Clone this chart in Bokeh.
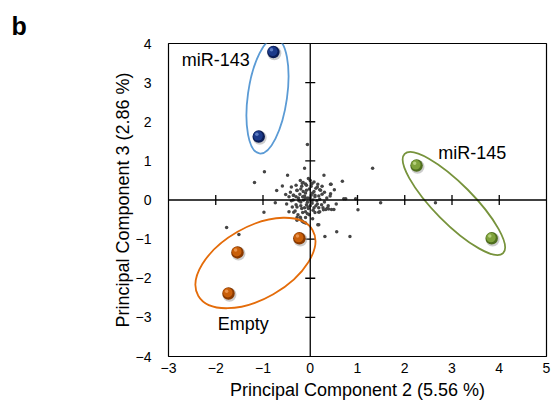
from bokeh.plotting import figure
from bokeh.models import ColumnDataSource, Span, Label, FixedTicker
from bokeh.embed import file_html
from bokeh.resources import INLINE
from bokeh.transform import dodge

# ---- data ----
mir143_x = [-0.78, -1.09]
mir143_y = [3.78, 1.62]
mir145_x = [2.25, 3.84]
mir145_y = [0.88, -0.98]
empty_x = [-0.23, -1.54, -1.73]
empty_y = [-0.98, -1.34, -2.39]

# background genes
genes_x = [-0.06, -0.12, -0.97, -1.18, -0.48, 0.29, 1.32, 0.68, 0.43, -0.59, -0.71, -0.74,
           -0.98, -1.77, -1.51, -0.28, -0.14, 0.16, 1.01, 1.49, 0.75, 2.65, 0.56, 0.84,
           0.31, 0.55, 0.36, -0.52, -0.40, -0.21, -0.04, -0.10, -0.17, -0.28, -0.36, 0.44,
           0.51, 0.43, 0.15, 0.20, 0.08, 0.71, 0.96, -0.35, -0.21, -0.17, -0.10, -0.28,
           -0.06, 0.18, 0.18, 0.27, 0.39, 0.33, 0.45, 0.50,
           -0.05, 0.02, -0.12, -0.20, 0.10, -0.08, 0.05, -0.15, 0.15, -0.25, 0.20, -0.30,
           0.08, -0.02, -0.18, 0.25, -0.35, 0.12, -0.10, 0.30, -0.28, 0.02, -0.06, 0.06,
           -0.14, 0.18, -0.22, 0.00, -0.40, 0.22, -0.08, 0.10, -0.32, 0.35, -0.02, -0.18,
           0.28, -0.42, 0.04, -0.26, 0.16, -0.10, 0.08, -0.20, 0.14, -0.04, -0.16, 0.24,
           -0.36, 0.04, -0.24, 0.00, -0.10, 0.10, -0.05, -0.30, 0.18, -0.12, 0.06, -0.20,
           0.30, -0.38, 0.12, -0.08, -0.16, 0.02, 0.20, -0.45, 0.38, -0.28, -0.10, 0.05,
           -0.20, -0.30, 0.00, -0.15, 0.25, -0.50, 0.42, -0.45]
genes_y = [1.42, 0.81, 0.72, 0.45, 0.63, 0.63, 0.81, 0.48, 0.40, 0.36, 0.24, -0.07,
           -0.31, -0.70, -0.88, -0.52, -0.57, -0.63, -0.25, -0.07, 0.03, -0.07, -0.81, -0.93,
           -0.93, -0.10, -0.21, 0.14, 0.33, 0.50, 0.55, 0.41, 0.43, 0.24, 0.12, 0.40,
           0.26, 0.16, 0.33, 0.26, 0.46, 0.03, 0.03, -0.31, -0.44, -0.54, -0.59, -0.18,
           -0.35, -0.31, -0.63, -0.20, -0.23, -0.24, -0.24, -0.24,
           0.05, -0.03, 0.10, -0.05, 0.08, -0.12, 0.18, 0.22, -0.10, 0.05, 0.02, -0.12,
           -0.20, 0.28, -0.22, 0.15, 0.12, 0.30, -0.30, -0.05, 0.25, 0.12, -0.06, 0.00,
           0.00, -0.20, 0.15, -0.15, -0.02, 0.25, 0.38, -0.32, -0.28, 0.05, -0.38, 0.35,
           -0.25, 0.20, 0.42, -0.38, 0.40, 0.18, 0.22, -0.15, -0.02, -0.22, 0.08, -0.12,
           0.00, -0.08, -0.02, 0.05, 0.05, 0.12, -0.18, 0.08, 0.10, -0.20, -0.26, 0.28,
           0.20, -0.18, -0.15, 0.25, -0.32, 0.35, -0.30, 0.08, -0.15, -0.45, -0.45, -0.48,
           -0.50, 0.38, 0.50, 0.45, 0.35, -0.10, 0.10, -0.30]

x_ticks = [-3, -2, -1, 0, 1, 2, 3, 4, 5]
y_ticks = [-4, -3, -2, -1, 0, 1, 2, 3, 4]

# ellipse annotations: center x, center y, width, height, angle(rad)
ell_143 = dict(x=[-0.905], y=[2.66], w=[0.83], h=[2.97], a=[-0.14])
ell_145 = dict(x=[3.04], y=[-0.09], w=[2.96], h=[1.0], a=[-0.79])
ell_empty = dict(x=[-1.16], y=[-1.61], w=[2.79], h=[1.84], a=[0.52])

FONT = "Liberation Sans"

p = figure(width=552, height=404, x_range=(-3, 5), y_range=(-4, 4),
           frame_width=378, frame_height=313,
           min_border_left=168, min_border_right=6, min_border_top=43, min_border_bottom=40,
           output_backend="svg", toolbar_location=None)
p.background_fill_color = "white"
p.border_fill_color = "white"
p.outline_line_color = "black"
p.outline_line_width = 1.2
p.xgrid.visible = False
p.ygrid.visible = False

# panel letter as the title, pushed to the far left
p.title.text = "b"
p.title.align = "left"
p.title.offset = -157
p.title.text_font = FONT
p.title.text_font_size = "25px"
p.title.text_font_style = "bold"
p.title.text_color = "black"
p.title.standoff = 8

for ax in (p.xaxis[0], p.yaxis[0]):
    ax.axis_line_color = None
    ax.major_tick_line_color = None
    ax.minor_tick_line_color = None
    ax.major_label_text_font = FONT
    ax.major_label_text_font_size = "14px"
    ax.major_label_text_color = "black"
    ax.axis_label_text_font = FONT
    ax.axis_label_text_font_size = "18px"
    ax.axis_label_text_font_style = "normal"
    ax.axis_label_text_color = "black"
p.xaxis.ticker = FixedTicker(ticks=x_ticks)
p.yaxis.ticker = FixedTicker(ticks=y_ticks)
p.xaxis.axis_label = "Principal Component 2 (5.56 %)"
p.yaxis.axis_label = "Principal Component 3 (2.86 %)"
p.xaxis.major_label_standoff = 0
p.xaxis.axis_label_standoff = 4
p.yaxis.major_label_standoff = 11
p.yaxis.axis_label_standoff = 0

# central axes
p.add_layout(Span(location=0, dimension="width", line_color="black", line_width=1.3))
p.add_layout(Span(location=0, dimension="height", line_color="black", line_width=1.3))
p.scatter([t for t in x_ticks if t not in (-3, 0, 5)], [0] * 6, marker="dash", angle=1.5708,
          size=10, line_color="black", line_width=1.3)
p.scatter([0] * 6, [t for t in y_ticks if t not in (-4, 0, 4)], marker="dash",
          size=10, line_color="black", line_width=1.3)

# background genes
p.scatter(genes_x, genes_y, size=3.5, fill_color="#454545", line_color=None)

# ellipses
for e, col in ((ell_143, "#5b9bd5"), (ell_145, "#77933c"), (ell_empty, "#e46c0a")):
    p.ellipse(x=e["x"], y=e["y"], width=e["w"], height=e["h"], angle=e["a"],
              fill_color=None, line_color=col, line_width=1.8)

# shaded balls
def balls(xs, ys, shadow, base, hi):
    src = ColumnDataSource(dict(x=xs, y=ys))
    p.scatter(x=dodge("x", 0.02, range=p.x_range), y=dodge("y", -0.03, range=p.y_range),
              source=src, size=14, fill_color="#9a9a9a", fill_alpha=0.5, line_color=None)
    p.scatter("x", "y", source=src, size=12.5, fill_color=shadow, line_color=None)
    p.scatter(x=dodge("x", -0.015, range=p.x_range), y=dodge("y", 0.02, range=p.y_range),
              source=src, size=9.5, fill_color=base, line_color=None)
    p.scatter(x=dodge("x", -0.04, range=p.x_range), y=dodge("y", 0.06, range=p.y_range),
              source=src, size=3.5, fill_color=hi, fill_alpha=0.8, line_color=None)

balls(mir143_x, mir143_y, "#0b1d55", "#1c3a8a", "#6f8fd0")
balls(mir145_x, mir145_y, "#4f6e1e", "#7fa23c", "#c5dc8f")
balls(empty_x, empty_y, "#8a3a00", "#c95f0a", "#f2a05c")

# group labels
for txt, lx, ly in (("miR-143", -2.72, 3.57), ("miR-145", 2.71, 1.21), ("Empty", -1.96, -3.16)):
    p.add_layout(Label(x=lx, y=ly, text=txt, text_font=FONT, text_font_size="18px",
                       text_baseline="middle", text_align="left", text_color="black"))

open("out.html", "w").write(file_html(p, INLINE))
